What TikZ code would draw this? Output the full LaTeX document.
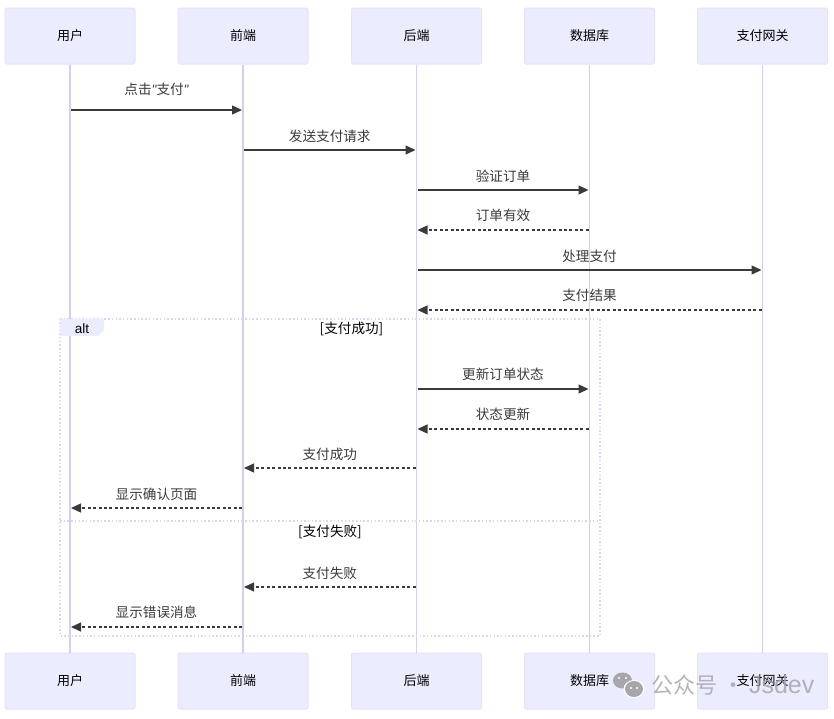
\documentclass[tikz,border=0pt]{standalone}
\usepackage{fontspec}
\usepackage{xcolor}
\usetikzlibrary{arrows.meta, calc}
\setmainfont{Noto Sans CJK SC}
\newfontfamily\latinfont{Liberation Sans}
\definecolor{actorfill}{HTML}{ECECFF}
\definecolor{actorline}{HTML}{E6E2FA}
\definecolor{lifeline}{HTML}{D6CCF6}
\definecolor{loopline}{HTML}{DAD5F6}
\definecolor{msgcolor}{HTML}{3A3A3A}
\definecolor{markgray}{HTML}{A6A6AC}
\tikzset{
  actor/.style={draw=actorline, line width=1pt, fill=actorfill, rounded corners=2pt, minimum width=130pt, minimum height=56pt, inner sep=0pt, text=black, font=\fontsize{13}{15}\selectfont},
  life/.style={draw=lifeline, line width=1.7pt},
  msg/.style={draw=msgcolor, line width=1.3pt, shorten >=1pt, shorten <=1pt, -{Triangle[length=10pt, width=9pt]}},
  reply/.style={msg, dash pattern=on 3pt off 2.4pt},
  msglabel/.style={text=msgcolor, inner sep=0pt, font=\fontsize{13.6}{15}\selectfont},
  looplabel/.style={text=black, inner sep=0pt, font=\fontsize{13.6}{15}\selectfont},
  loopedge/.style={draw=loopline, line width=1.2pt, dash pattern=on 1.5pt off 2.2pt},
  mark text/.style={text=markgray, inner sep=0pt, opacity=0.85, font=\fontsize{22}{24}\selectfont}
}
\begin{document}
\begin{tikzpicture}[x=1pt, y=-1pt]
  \useasboundingbox (0, 0) rectangle (834, 718);

  % lifelines run between the two rows of boxes
  \foreach \name/\x/\txt in {user/70/用户, front/243/前端, back/416.5/后端, db/589.5/数据库, pay/762.5/支付网关} {
      \node[actor] (\name top) at (\x, 36) {\txt};
      \node[actor] (\name bot) at (\x, 681) {\txt};
      \draw[life] (\name top) -- (\name bot);
    }

  % alt frame
  \coordinate (alttl) at (60, 319);
  \coordinate (alttr) at (600, 319);
  \coordinate (altbl) at (60, 636);
  \coordinate (altbr) at (600, 636);
  \coordinate (sepl) at (60, 521);
  \coordinate (sepr) at (600, 521);
  \draw[loopedge] (alttl) -- (alttr) -- (altbr) -- (altbl) -- cycle;
  \draw[loopedge] (sepl) -- (sepr);
  \fill[actorfill] (60, 319) -- (104, 319) -- (104, 330) -- (98, 336) -- (60, 336) -- cycle;
  \node[looplabel, font=\latinfont\fontsize{13.6}{15}\selectfont] (alttag) at (82, 328.5) {alt};
  \node[looplabel] (altok) at (351.5, 329) {[支付成功]};
  \node[looplabel] (altfail) at (330, 532) {[支付失败]};

  % messages: from/to/line y/label y/text
  \foreach \from/\to/\y/\ly/\txt in {user/front/110/89/{点击{\latinfont\itshape"}支付{\latinfont\itshape"}}, front/back/150/136/发送支付请求, back/db/190/176/验证订单, back/pay/270/256/处理支付, back/db/389/374/更新订单状态} {
      \coordinate (rowy) at (0, \y);
      \coordinate (a) at (\from top |- rowy);
      \coordinate (b) at (\to top |- rowy);
      \draw[msg] (a) -- (b);
      \coordinate (rowt) at ($(a)!0.5!(b)$);
      \coordinate (rowl) at (0, \ly);
      \node[msglabel] (l\y) at (rowt |- rowl) {\txt};
    }
  \foreach \from/\to/\y/\ly/\txt in {db/back/230/215/订单有效, pay/back/310/295/支付结果, db/back/429/414/状态更新, back/front/468/454/支付成功, front/user/508/494/显示确认页面, back/front/587/573/支付失败, front/user/627/612/显示错误消息} {
      \coordinate (rowy) at (0, \y);
      \coordinate (a) at (\from top |- rowy);
      \coordinate (b) at (\to top |- rowy);
      \draw[reply] (a) -- (b);
      \coordinate (rowt) at ($(a)!0.5!(b)$);
      \coordinate (rowl) at (0, \ly);
      \node[msglabel] (l\y) at (rowt |- rowl) {\txt};
    }

  % watermark over the bottom boxes
  \fill[markgray] (622.5, 680.5) ellipse (9.5 and 8);
  \fill[white] (634, 689) ellipse (10.5 and 9);
  \fill[markgray] (634, 689) ellipse (9 and 8);
  \foreach \x/\y in {619/678, 626/678, 631/688, 637/688} {
      \fill[white] (\x, \y) circle (1.1);
    }
  \node[mark text, anchor=west] (wmark) at (651, 685) {公众号 · {\latinfont\fontsize{25}{26}\selectfont Jsdev}};
\end{tikzpicture}
\end{document}
